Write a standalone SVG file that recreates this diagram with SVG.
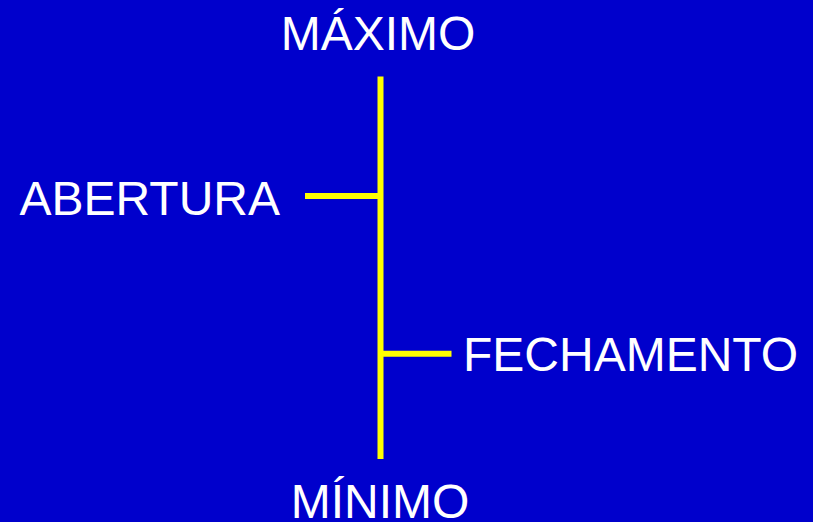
<svg xmlns="http://www.w3.org/2000/svg" width="813" height="522" viewBox="0 0 813 522">
  <style>
    .label { font-family: "Liberation Sans", Arial, sans-serif; font-size: 48px; fill: #FFFFFF; }
    .bar { stroke: #FFFF00; stroke-width: 6; fill: none; }
  </style>
  <rect x="0" y="0" width="813" height="522" fill="#0000CC"/>
  <g id="connectors">
    <line class="bar" x1="380.5" y1="76.5" x2="380.5" y2="459"/>
    <line class="bar" x1="305" y1="196" x2="378" y2="196"/>
    <line class="bar" x1="383" y1="353.7" x2="451.5" y2="353.7"/>
  </g>
  <g id="maximo">
    <text class="label" x="378" y="50" text-anchor="middle">MÁXIMO</text>
  </g>
  <g id="abertura">
    <text class="label" x="19.5" y="215">ABERTURA</text>
  </g>
  <g id="fechamento">
    <text class="label" x="463" y="371">FECHAMENTO</text>
  </g>
  <g id="minimo">
    <text class="label" x="380" y="517.5" text-anchor="middle">MÍNIMO</text>
  </g>
</svg>
